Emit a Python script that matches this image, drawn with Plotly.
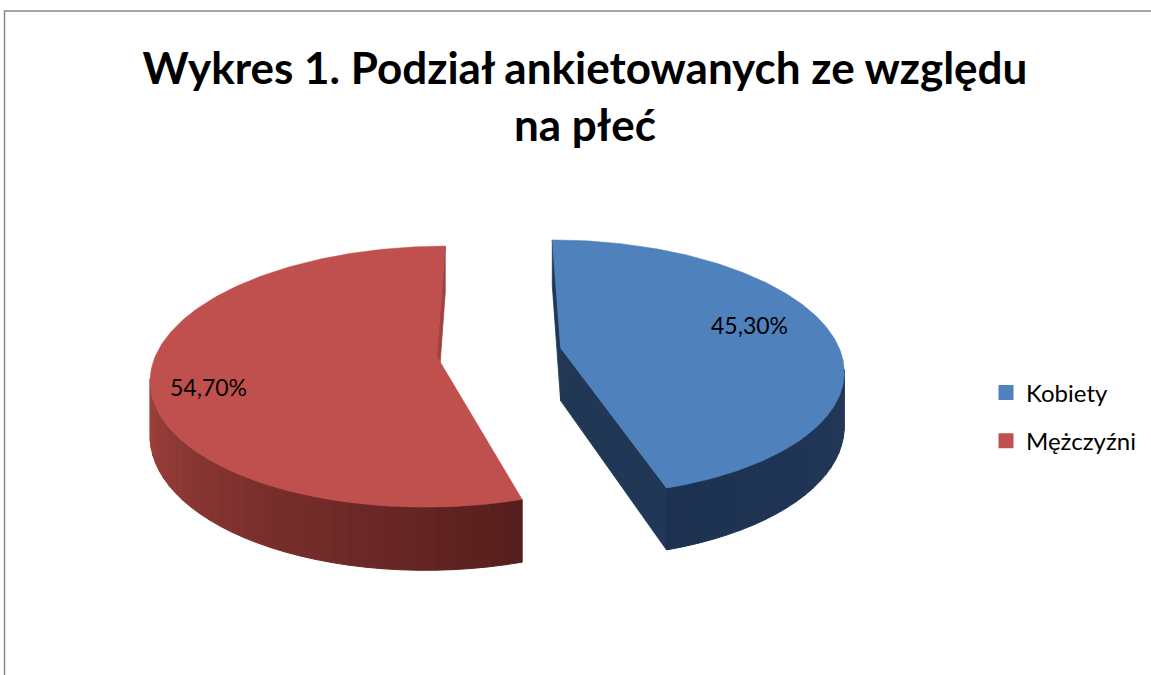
import numpy as np
import plotly.graph_objects as go

# ---------------- data ----------------
categories = ["Kobiety", "Mężczyźni"]
shares = [45.3, 54.7]                 # percent
share_labels = ["45,30%", "54,70%"]
title_text = "Wykres 1. Podział ankietowanych ze względu<br>na płeć"

# ---------------- style / geometry ----------------
W, H = 1151, 675
CX, CY = 499, 352          # screen position of the (un-exploded) pie centre
RX, RY = 280, 126          # horizontal / vertical radius of the tilted disc
PERSP = 0.156              # perspective strength
DEPTH = 53                 # thickness of the pie
EXPLODE = 0.2235           # explosion distance (in radius units)
LABEL_R = [0.7, 0.8]
LABEL_DY = [-10, 16]
TOP_COLORS = ["#4F81BD", "#C0504D"]
WALL_LIGHT = ["#243A5C", "#A6443F"]
WALL_DARK = ["#1D3150", "#561E1D"]
FACE_COLORS = ["#213756", "#A3413D"]
FONT = "Lato"


def proj(u, v, h):
    s = 1.0 / (1.0 + PERSP * v)
    return CX + RX * u * s, CY + (DEPTH * h - RY * v) * s


def area(pts):
    a = 0.0
    for i in range(len(pts)):
        x1, y1 = pts[i]
        x2, y2 = pts[(i + 1) % len(pts)]
        a += x1 * y2 - x2 * y1
    return a


def hex2rgb(c):
    c = c.lstrip("#")
    return np.array([int(c[i:i + 2], 16) for i in (0, 2, 4)], dtype=float)


def lerp_col(c0, c1, t):
    r = hex2rgb(c0) * (1 - t) + hex2rgb(c1) * t
    return "rgb(%d,%d,%d)" % tuple(np.round(r).astype(int))


fig = go.Figure()
side_traces = []
top_traces = []
annotations = []

total = float(sum(shares))
start = 0.0
for i, (cat, val) in enumerate(zip(categories, shares)):
    a0 = start / total * 360.0
    a1 = (start + val) / total * 360.0
    start += val
    mid = np.radians((a0 + a1) / 2)
    eu, ev = EXPLODE * np.sin(mid), EXPLODE * np.cos(mid)

    def rim(theta_deg, h):
        t = np.radians(theta_deg)
        return proj(eu + np.sin(t), ev + np.cos(t), h)

    apex_t = proj(eu, ev, 0)
    apex_b = proj(eu, ev, 1)

    # radial cut faces
    end_face = [apex_t, rim(a1, 0), rim(a1, 1), apex_b]
    start_face = [apex_t, apex_b, rim(a0, 1), rim(a0, 0)]
    for face in (start_face, end_face):
        if area(face) > 0:
            xs = [p[0] for p in face] + [face[0][0]]
            ys = [p[1] for p in face] + [face[0][1]]
            side_traces.append(go.Scatter(
                x=xs, y=ys, mode="lines", fill="toself",
                fillcolor=FACE_COLORS[i], line=dict(color=FACE_COLORS[i], width=0.8),
                hoverinfo="skip", showlegend=False))

    # curved outer wall
    nseg = max(8, int((a1 - a0) / 3))
    thetas = np.linspace(a0, a1, nseg + 1)
    for ta, tb in zip(thetas[:-1], thetas[1:]):
        quad = [rim(ta, 0), rim(ta, 1), rim(tb, 1), rim(tb, 0)]
        if area(quad) <= 0:
            continue
        tm = (ta + tb) / 2
        if i == 1:
            t = np.clip((tm - a0) / (268 - a0), 0, 1)
        else:
            t = np.clip((a1 - tm) / (a1 - 90), 0, 1)
        col = lerp_col(WALL_DARK[i], WALL_LIGHT[i], t)
        xs = [p[0] for p in quad] + [quad[0][0]]
        ys = [p[1] for p in quad] + [quad[0][1]]
        side_traces.append(go.Scatter(
            x=xs, y=ys, mode="lines", fill="toself", fillcolor=col,
            line=dict(color=col, width=1), hoverinfo="skip", showlegend=False))

    # top face
    arc = np.linspace(a0, a1, 200)
    pts = [apex_t] + [rim(t, 0) for t in arc] + [apex_t]
    top_traces.append(go.Scatter(
        x=[p[0] for p in pts], y=[p[1] for p in pts], mode="lines", fill="toself",
        fillcolor=TOP_COLORS[i], line=dict(color=TOP_COLORS[i], width=0.5),
        name=cat, hoverinfo="name", showlegend=False))

    lx, ly = proj(eu + LABEL_R[i] * np.sin(mid), ev + LABEL_R[i] * np.cos(mid), 0)
    annotations.append(dict(x=lx, y=ly + LABEL_DY[i], xref="x", yref="y",
                            text=share_labels[i], showarrow=False,
                            font=dict(family=FONT, size=23, color="#000000")))

for tr in side_traces + top_traces:
    fig.add_trace(tr)

# legend entries
for i, cat in enumerate(categories):
    fig.add_trace(go.Scatter(
        x=[None], y=[None], mode="markers", name=cat, legendgroup=cat,
        marker=dict(symbol="square", size=15, color=TOP_COLORS[i])))

fig.update_layout(
    width=W, height=H,
    margin=dict(l=0, r=0, t=0, b=0),
    paper_bgcolor="white", plot_bgcolor="white",
    xaxis=dict(range=[0, W], visible=False, fixedrange=True),
    yaxis=dict(range=[H, 0], visible=False, fixedrange=True),
    title=dict(text=title_text, x=585 / W, xanchor="center",
               y=1 - 84 / H, yanchor="top",
               font=dict(family=FONT, size=44, color="#000000", weight="bold")),
    legend=dict(x=986 / W, y=1 - 417 / H, xanchor="left", yanchor="middle",
                font=dict(family=FONT, size=24, color="#000000"),
                tracegroupgap=14, bgcolor="rgba(0,0,0,0)"),
    annotations=annotations,
    shapes=[dict(type="rect", xref="paper", yref="paper",
                 x0=4.5 / W, x1=1.05, y0=-0.05, y1=1 - 11 / H,
                 line=dict(color="#868686", width=1.5))],
    showlegend=True,
)

fig.write_html("out.html", config={"displayModeBar": False},
               post_script="document.body.style.margin='0';document.body.style.padding='0';")
